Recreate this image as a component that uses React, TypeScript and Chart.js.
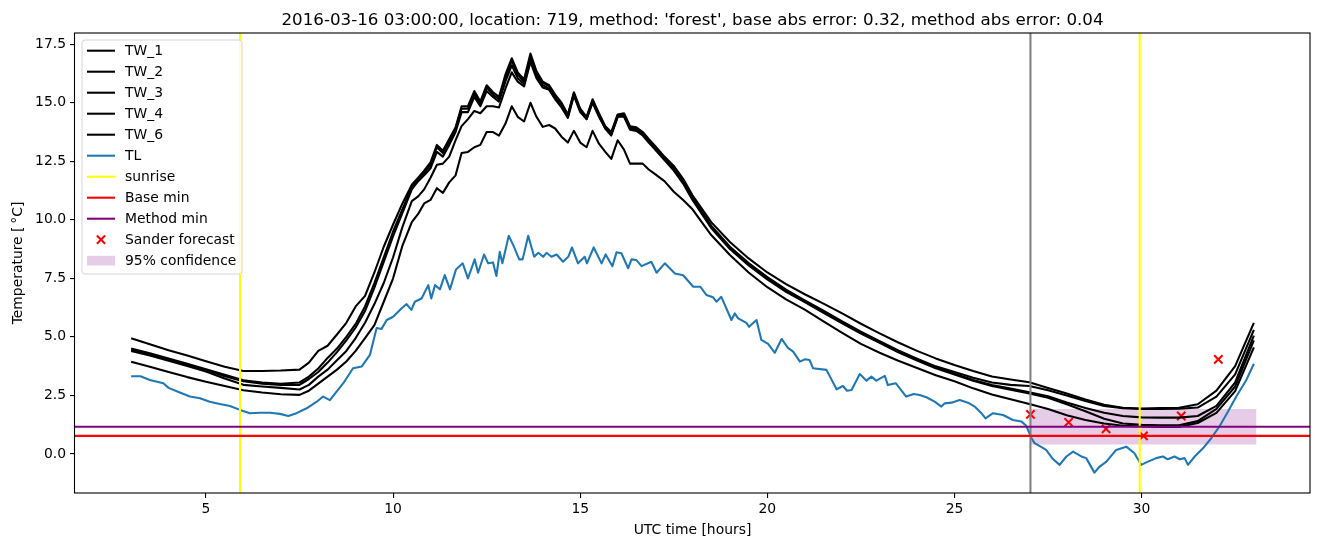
import React, { useEffect, useRef } from "react";
import { Chart, registerables } from "chart.js";

Chart.register(...registerables);

const TITLE = "2016-03-16 03:00:00, location: 719, method: 'forest', base abs error: 0.32, method abs error: 0.04";
const X_LABEL = "UTC time [hours]";
const Y_LABEL = "Temperature [\u2009\u00B0C]";

const X_MIN = 1.5;
const X_MAX = 34.5;
const Y_MIN = -1.67;
const Y_MAX = 17.98;
const xTicks = [5, 10, 15, 20, 25, 30];
const yTicks = [0, 2.5, 5, 7.5, 10, 12.5, 15, 17.5];

const twHours = [
  3, 3.5, 4, 4.5, 5, 5.5, 6, 6.5, 7, 7.5,
  7.75, 8, 8.25, 8.5, 8.75, 9, 9.25, 9.5, 9.75, 10,
  10.25, 10.5, 10.67, 10.83, 11, 11.17, 11.33, 11.5, 11.67, 11.83,
  12, 12.17, 12.33, 12.5, 12.67, 12.83, 13, 13.17, 13.33, 13.5,
  13.67, 13.83, 14, 14.17, 14.33, 14.5, 14.67, 14.83, 15, 15.17,
  15.33, 15.5, 15.67, 15.83, 16, 16.17, 16.33, 16.5, 16.67, 16.83,
  17, 17.25, 17.5, 17.75, 18, 18.5, 19, 19.5, 20, 20.5,
  21, 21.5, 22, 22.5, 23, 23.5, 24, 24.5, 25, 25.5,
  26, 26.5, 27, 27.5, 28, 28.5, 29, 29.5, 30, 30.5,
  31, 31.5, 32, 32.5, 33,
];

const tw1 = [
  4.94, 4.68, 4.43, 4.2, 3.96, 3.72, 3.54, 3.54, 3.56, 3.6,
  3.9, 4.4, 4.62, 5.1, 5.6, 6.3, 6.75, 7.75, 8.85, 9.8,
  10.7, 11.5, 11.8, 12.1, 12.45, 13.2, 12.95, 13.45, 13.95, 14.85,
  14.85, 15.5, 15.05, 15.75, 15.45, 15.25, 16.2, 16.9, 16.3, 16.0,
  17.1, 16.35, 15.9, 15.75, 15.35, 15.0, 14.5, 15.45, 14.75, 14.4,
  15.15, 14.55, 14.0, 13.75, 14.5, 14.55, 14.0, 13.95, 13.75, 13.45,
  13.15, 12.7, 12.3, 11.75, 11.05, 9.9, 9.05, 8.35, 7.75, 7.25,
  6.82, 6.42, 6.0, 5.56, 5.15, 4.76, 4.4, 4.08, 3.8, 3.54,
  3.31, 3.18, 3.06, 2.82, 2.58, 2.32, 2.1, 1.97, 1.94, 1.96,
  1.97, 2.12, 2.7, 3.75, 5.6,
];

const tw2 = [
  4.5, 4.3, 4.08, 3.85, 3.62, 3.38, 3.15, 3.05, 3.0, 3.05,
  3.3, 3.65, 4.1, 4.5, 5.0, 5.55, 6.3, 7.3, 8.4, 9.5,
  10.45, 11.4, 11.75, 12.0, 12.35, 13.1, 12.85, 13.35, 13.9, 14.75,
  14.75, 15.4, 14.95, 15.65, 15.35, 15.15, 16.05, 16.8, 16.2, 15.9,
  16.95, 16.25, 15.85, 15.7, 15.3, 14.95, 14.45, 15.4, 14.7, 14.35,
  15.1, 14.5, 13.95, 13.7, 14.45, 14.5, 13.95, 13.9, 13.7, 13.4,
  13.1, 12.65, 12.2, 11.65, 10.95, 9.75, 8.85, 8.15, 7.55, 7.02,
  6.56, 6.12, 5.66, 5.22, 4.82, 4.42, 4.07, 3.74, 3.5, 3.25,
  3.05, 2.95, 2.9, 2.72, 2.5, 2.26, 2.05, 1.95, 1.92, 1.92,
  1.93, 1.98, 2.45, 3.4, 5.3,
];

const tw3 = [
  4.45, 4.25, 4.02, 3.8, 3.58, 3.32, 3.1, 3.0, 2.95, 2.95,
  3.2, 3.5, 3.9, 4.35, 4.85, 5.4, 6.1, 7.1, 8.2, 9.3,
  10.3, 11.3, 11.65, 11.9, 12.2, 12.9, 12.7, 13.2, 13.75, 14.6,
  14.6, 15.25, 14.85, 15.5, 15.25, 15.05, 15.9, 16.6, 16.05, 15.8,
  16.8, 16.15, 15.75, 15.6, 15.2, 14.85, 14.4, 15.35, 14.65, 14.3,
  15.05, 14.45, 13.9, 13.65, 14.4, 14.45, 13.9, 13.85, 13.65, 13.35,
  13.05, 12.6, 12.15, 11.6, 10.9, 9.7, 8.8, 8.1, 7.5, 6.97,
  6.52, 6.08, 5.62, 5.18, 4.78, 4.38, 4.03, 3.7, 3.43, 3.16,
  2.94, 2.79, 2.63, 2.46, 2.2, 1.96, 1.76, 1.62, 1.56, 1.55,
  1.55, 1.62, 2.05, 3.05, 5.05,
];

const tw4 = [
  4.4, 4.2, 3.98, 3.75, 3.52, 3.22, 2.95, 2.88, 2.82, 2.75,
  2.95, 3.3, 3.6, 4.0, 4.4, 4.95, 5.6, 6.4, 7.3, 8.4,
  9.7, 10.8, 11.0, 11.3, 11.8, 12.35, 12.4, 12.7, 13.4, 14.0,
  14.3, 14.65, 14.55, 14.85, 14.85, 14.8, 15.6, 16.3, 15.9, 15.7,
  16.75, 16.05, 15.65, 15.55, 15.15, 14.8, 14.35, 15.3, 14.6, 14.3,
  15.0, 14.4, 13.9, 13.6, 14.4, 14.4, 13.85, 13.8, 13.6, 13.3,
  13.0, 12.55, 12.1, 11.55, 10.85, 9.65, 8.75, 8.05, 7.45, 6.92,
  6.48, 6.03, 5.58, 5.14, 4.74, 4.34, 3.99, 3.66, 3.39, 3.12,
  2.9, 2.74, 2.58, 2.4, 2.12, 1.82, 1.5, 1.3, 1.24, 1.22,
  1.22, 1.4, 1.92, 2.88, 4.85,
];

const tw6 = [
  3.94, 3.72, 3.5, 3.28, 3.08, 2.9, 2.72, 2.62, 2.55, 2.52,
  2.7, 3.0, 3.3, 3.6, 3.95, 4.4, 4.95, 5.5, 6.5, 7.5,
  8.9, 9.9, 10.25, 10.7, 10.85, 11.35, 11.15, 11.6, 11.9, 12.85,
  12.9, 13.1, 13.2, 13.75, 13.75, 13.6, 14.1, 14.85, 14.4, 14.2,
  15.0, 14.4, 13.97, 14.05, 13.9, 13.55, 13.3, 13.8, 13.3, 13.1,
  13.8, 13.25, 12.9, 12.6, 13.4, 13.0, 12.4, 12.4, 12.4, 12.15,
  11.95, 11.65, 11.2, 10.85, 10.45, 9.35, 8.5, 7.75, 7.12, 6.6,
  6.16, 5.66, 5.17, 4.7, 4.32, 3.98, 3.67, 3.36, 3.1, 2.8,
  2.54, 2.33, 2.13, 1.92, 1.65, 1.45, 1.3, 1.2, 1.17, 1.15,
  1.15, 1.32, 1.75, 2.68, 4.55,
];

const tlHours = [
  3.0, 3.25, 3.5, 3.86, 4.0, 4.3, 4.57, 4.84, 5.1, 5.37,
  5.64, 5.91, 6.17, 6.44, 6.71, 6.98, 7.2, 7.42, 7.69, 7.96,
  8.13, 8.31, 8.49, 8.67, 8.93, 9.16, 9.38, 9.56, 9.69, 9.83,
  10.0, 10.23, 10.36, 10.49, 10.58, 10.76, 10.94, 11.02, 11.12, 11.25,
  11.38, 11.52, 11.68, 11.86, 12.0, 12.18, 12.27, 12.43, 12.54, 12.67,
  12.76, 12.85, 12.92, 13.09, 13.21, 13.37, 13.46, 13.61, 13.77, 13.88,
  14.01, 14.1, 14.23, 14.37, 14.54, 14.68, 14.78, 14.94, 15.12, 15.18,
  15.36, 15.57, 15.68, 15.86, 15.97, 16.1, 16.28, 16.37, 16.5, 16.64,
  16.9, 17.04, 17.26, 17.53, 17.75, 18.02, 18.21, 18.37, 18.55, 18.64,
  18.77, 19.04, 19.13, 19.22, 19.44, 19.51, 19.71, 19.84, 20.02, 20.2,
  20.38, 20.55, 20.69, 20.87, 21.0, 21.13, 21.22, 21.58, 21.85, 22.02,
  22.13, 22.25, 22.47, 22.65, 22.78, 22.91, 23.14, 23.22, 23.43, 23.71,
  23.91, 24.07, 24.25, 24.47, 24.65, 24.74, 24.92, 25.14, 25.36, 25.54,
  25.72, 25.83, 26.03, 26.3, 26.56, 26.79, 26.92, 27.06, 27.14, 27.28,
  27.45, 27.63, 27.81, 27.99, 28.17, 28.39, 28.52, 28.74, 28.88, 29.06,
  29.32, 29.59, 29.81, 29.99, 30.17, 30.39, 30.57, 30.7, 30.88, 31.02,
  31.15, 31.24, 31.42, 31.64, 31.86, 32.08, 32.31, 32.53, 32.8, 33.0,
];

const tlTemps = [
  3.32, 3.32, 3.16, 3.02, 2.82, 2.62, 2.45, 2.38, 2.23, 2.13,
  2.05, 1.88, 1.74, 1.76, 1.76, 1.71, 1.62, 1.74, 1.95, 2.23,
  2.45, 2.3, 2.66, 3.02, 3.66, 3.73, 4.23, 5.38, 5.34, 5.72,
  5.86, 6.22, 6.4, 6.15, 6.5, 6.64, 7.21, 6.64, 7.21, 7.03,
  7.64, 7.03, 7.88, 8.14, 7.5, 8.31, 7.74, 8.52, 8.14, 8.18,
  7.6, 8.63, 8.14, 9.32, 8.92, 8.31, 8.31, 9.32, 8.42, 8.59,
  8.42, 8.59, 8.42, 8.52, 8.21, 8.42, 8.82, 8.14, 8.42, 8.14,
  8.82, 8.14, 8.52, 8.02, 8.61, 8.57, 7.93, 8.31, 8.28, 8.02,
  8.21, 7.74, 8.14, 7.71, 7.63, 7.14, 7.14, 6.79, 6.69, 6.5,
  6.71, 5.72, 6.0, 5.79, 5.6, 5.43, 5.72, 4.87, 4.7, 4.32,
  4.91, 4.53, 4.37, 3.94, 4.04, 4.01, 3.66, 3.59, 2.76, 2.9,
  2.7, 2.73, 3.41, 3.13, 3.3, 3.13, 3.33, 2.94, 3.02, 2.45,
  2.56, 2.52, 2.42, 2.23, 2.02, 2.16, 2.19, 2.3, 2.19, 2.02,
  1.74, 1.52, 1.74, 1.66, 1.45, 1.38, 1.2, 0.67, 0.46, 0.33,
  0.17, -0.22, -0.47, -0.11, 0.1, -0.11, -0.18, -0.8, -0.54, -0.33,
  0.17, 0.31, 0.03, -0.47, -0.33, -0.18, -0.11, -0.23, -0.11, -0.23,
  -0.18, -0.47, -0.11, 0.24, 0.67, 1.17, 1.81, 2.45, 3.16, 3.85,
];

const sunriseHours = [5.91, 29.95];
const nowHour = 27.03;
const baseMin = 0.77;
const methodMin = 1.16;
const forecastHours = [27.03, 28.05, 29.05, 30.05, 31.06, 32.05];
const forecastTemps = [1.69, 1.35, 1.07, 0.77, 1.62, 4.04];
const bandHours = [27.03, 33.07];
const bandLow = 0.4;
const bandHigh = 1.92;

const TW_NAMES = ["TW_1", "TW_2", "TW_3", "TW_4", "TW_6"];
const TW_SERIES = [tw1, tw2, tw3, tw4, tw6];

const FONT = '"DejaVu Sans", "Liberation Sans", sans-serif';
const TL_COLOR = "#1f77b4";
const BAND_COLOR = "rgba(128,0,128,0.2)";
const LW = 2.08;

const pairs = (xs: number[], ys: number[]) => xs.map((x, i) => ({ x, y: ys[i] }));

const lineBase = {
  type: "line" as const,
  pointRadius: 0,
  borderWidth: LW,
  fill: false,
  tension: 0,
  borderJoinStyle: "round" as const,
  borderCapStyle: "butt" as const,
};

const legendItems = [
  ...TW_NAMES.map((n) => ({ label: n, kind: "line", color: "#000000" })),
  { label: "TL", kind: "line", color: TL_COLOR },
  { label: "sunrise", kind: "line", color: "#ffff00" },
  { label: "Base min", kind: "line", color: "#ff0000" },
  { label: "Method min", kind: "line", color: "#800080" },
  { label: "Sander forecast", kind: "x", color: "#ff0000" },
  { label: "95% confidence", kind: "patch", color: BAND_COLOR },
];

const decorations = {
  id: "decorations",
  afterDraw(chart: any) {
    const { ctx, chartArea: a } = chart;
    ctx.save();
    // frame (spines)
    ctx.strokeStyle = "#000";
    ctx.lineWidth = 1.1;
    ctx.strokeRect(a.left - 0.5, a.top, a.right - a.left + 0.5, a.bottom - a.top);

    // title
    ctx.fillStyle = "#000";
    ctx.font = `16.7px ${FONT}`;
    ctx.textAlign = "center";
    ctx.textBaseline = "alphabetic";
    ctx.fillText(TITLE, (a.left + a.right) / 2, a.top - 8.5);

    // x label
    ctx.font = `13.9px ${FONT}`;
    ctx.textBaseline = "middle";
    ctx.fillText(X_LABEL, (a.left + a.right) / 2, 530);

    // y label
    ctx.save();
    ctx.translate(18, (a.top + a.bottom) / 2);
    ctx.rotate(-Math.PI / 2);
    ctx.fillText(Y_LABEL, 0, 0);
    ctx.restore();

    // legend
    const lx = 82, ly = 40, lw = 160, lh = 234;
    ctx.beginPath();
    const r = 3;
    ctx.moveTo(lx + r, ly);
    ctx.lineTo(lx + lw - r, ly);
    ctx.quadraticCurveTo(lx + lw, ly, lx + lw, ly + r);
    ctx.lineTo(lx + lw, ly + lh - r);
    ctx.quadraticCurveTo(lx + lw, ly + lh, lx + lw - r, ly + lh);
    ctx.lineTo(lx + r, ly + lh);
    ctx.quadraticCurveTo(lx, ly + lh, lx, ly + lh - r);
    ctx.lineTo(lx, ly + r);
    ctx.quadraticCurveTo(lx, ly, lx + r, ly);
    ctx.closePath();
    ctx.fillStyle = "rgba(255,255,255,0.8)";
    ctx.fill();
    ctx.strokeStyle = "rgba(204,204,204,0.8)";
    ctx.lineWidth = 1;
    ctx.stroke();

    ctx.textAlign = "left";
    ctx.textBaseline = "middle";
    ctx.font = `13.9px ${FONT}`;
    legendItems.forEach((it, i) => {
      const cy = 50.7 + i * 21;
      if (it.kind === "line") {
        ctx.strokeStyle = it.color;
        ctx.lineWidth = LW;
        ctx.beginPath();
        ctx.moveTo(87, cy);
        ctx.lineTo(115, cy);
        ctx.stroke();
      } else if (it.kind === "x") {
        ctx.strokeStyle = it.color;
        ctx.lineWidth = LW;
        const s = 4.1;
        ctx.beginPath();
        ctx.moveTo(101 - s, cy - s);
        ctx.lineTo(101 + s, cy + s);
        ctx.moveTo(101 - s, cy + s);
        ctx.lineTo(101 + s, cy - s);
        ctx.stroke();
      } else {
        ctx.fillStyle = it.color;
        ctx.fillRect(87, cy - 4.9, 28, 9.7);
      }
      ctx.fillStyle = "#000";
      ctx.fillText(it.label, 125, cy + 0.5);
    });
    ctx.restore();
  },
};

export default function App() {
  const ref = useRef<HTMLCanvasElement>(null);

  useEffect(() => {
    const canvas = ref.current;
    if (!canvas) return;

    const datasets: any[] = [
      {
        ...lineBase,
        label: "Method min",
        data: [{ x: X_MIN, y: methodMin }, { x: X_MAX, y: methodMin }],
        borderColor: "#800080",
      },
      {
        ...lineBase,
        label: "Base min",
        data: [{ x: X_MIN, y: baseMin }, { x: X_MAX, y: baseMin }],
        borderColor: "#ff0000",
      },
      ...sunriseHours.map((h) => ({
        ...lineBase,
        label: "sunrise",
        data: [{ x: h, y: Y_MIN }, { x: h, y: Y_MAX }],
        borderColor: "#ffff00",
      })),
      {
        ...lineBase,
        label: "now",
        data: [{ x: nowHour, y: Y_MIN }, { x: nowHour, y: Y_MAX }],
        borderColor: "#808080",
      },
      {
        ...lineBase,
        label: "TL",
        data: pairs(tlHours, tlTemps),
        borderColor: TL_COLOR,
      },
      ...TW_SERIES.map((s, i) => ({
        ...lineBase,
        label: TW_NAMES[i],
        data: pairs(twHours, s),
        borderColor: "#000000",
      })).reverse(),
      {
        type: "line",
        label: "Sander forecast",
        data: pairs(forecastHours, forecastTemps),
        showLine: false,
        pointStyle: "crossRot",
        pointRadius: 5.9,
        pointBorderWidth: LW,
        pointBorderColor: "#ff0000",
        pointBackgroundColor: "#ff0000",
        borderColor: "#ff0000",
      },
      {
        ...lineBase,
        label: "95% confidence",
        data: bandHours.map((h) => ({ x: h, y: bandHigh })),
        borderWidth: 0,
        borderColor: "rgba(0,0,0,0)",
        backgroundColor: BAND_COLOR,
        fill: { value: bandLow },
      },
    ];

    const axisCommon = {
      type: "linear" as const,
      grid: {
        display: true,
        drawOnChartArea: false,
        drawTicks: true,
        tickLength: 5,
        color: "#000",
        lineWidth: 1.1,
      },
      border: { display: false },
    };

    const chart = new Chart(canvas, {
      type: "line",
      data: { datasets },
      options: {
        responsive: false,
        animation: false,
        devicePixelRatio: 1,
        layout: { padding: { left: 0, right: 14, top: 33, bottom: 0 }, autoPadding: false },
        plugins: {
          legend: { display: false },
          title: { display: false },
          tooltip: { enabled: false },
        },
        scales: {
          x: {
            ...axisCommon,
            min: X_MIN,
            max: X_MAX,
            afterBuildTicks: (s: any) => {
              s.ticks = xTicks.map((v) => ({ value: v }));
            },
            afterFit: (s: any) => {
              s.height = 54;
            },
            ticks: {
              color: "#000",
              font: { family: FONT, size: 13.9 },
              padding: 3,
              maxRotation: 0,
              autoSkip: false,
              callback: (v: any) => String(v),
            },
          },
          y: {
            ...axisCommon,
            min: Y_MIN,
            max: Y_MAX,
            afterBuildTicks: (s: any) => {
              s.ticks = yTicks.map((v) => ({ value: v }));
            },
            afterFit: (s: any) => {
              s.width = 75;
            },
            ticks: {
              color: "#000",
              font: { family: FONT, size: 13.9 },
              padding: 4,
              autoSkip: false,
              callback: (v: any) => Number(v).toFixed(1),
            },
          },
        },
      } as any,
      plugins: [decorations],
    } as any);

    return () => chart.destroy();
  }, []);

  return (
    <div style={{ position: "absolute", left: 0, top: 0, width: 1324, height: 547, background: "#fff" }}>
      <canvas ref={ref} width={1324} height={547} style={{ display: "block", width: 1324, height: 547 }} />
    </div>
  );
}
